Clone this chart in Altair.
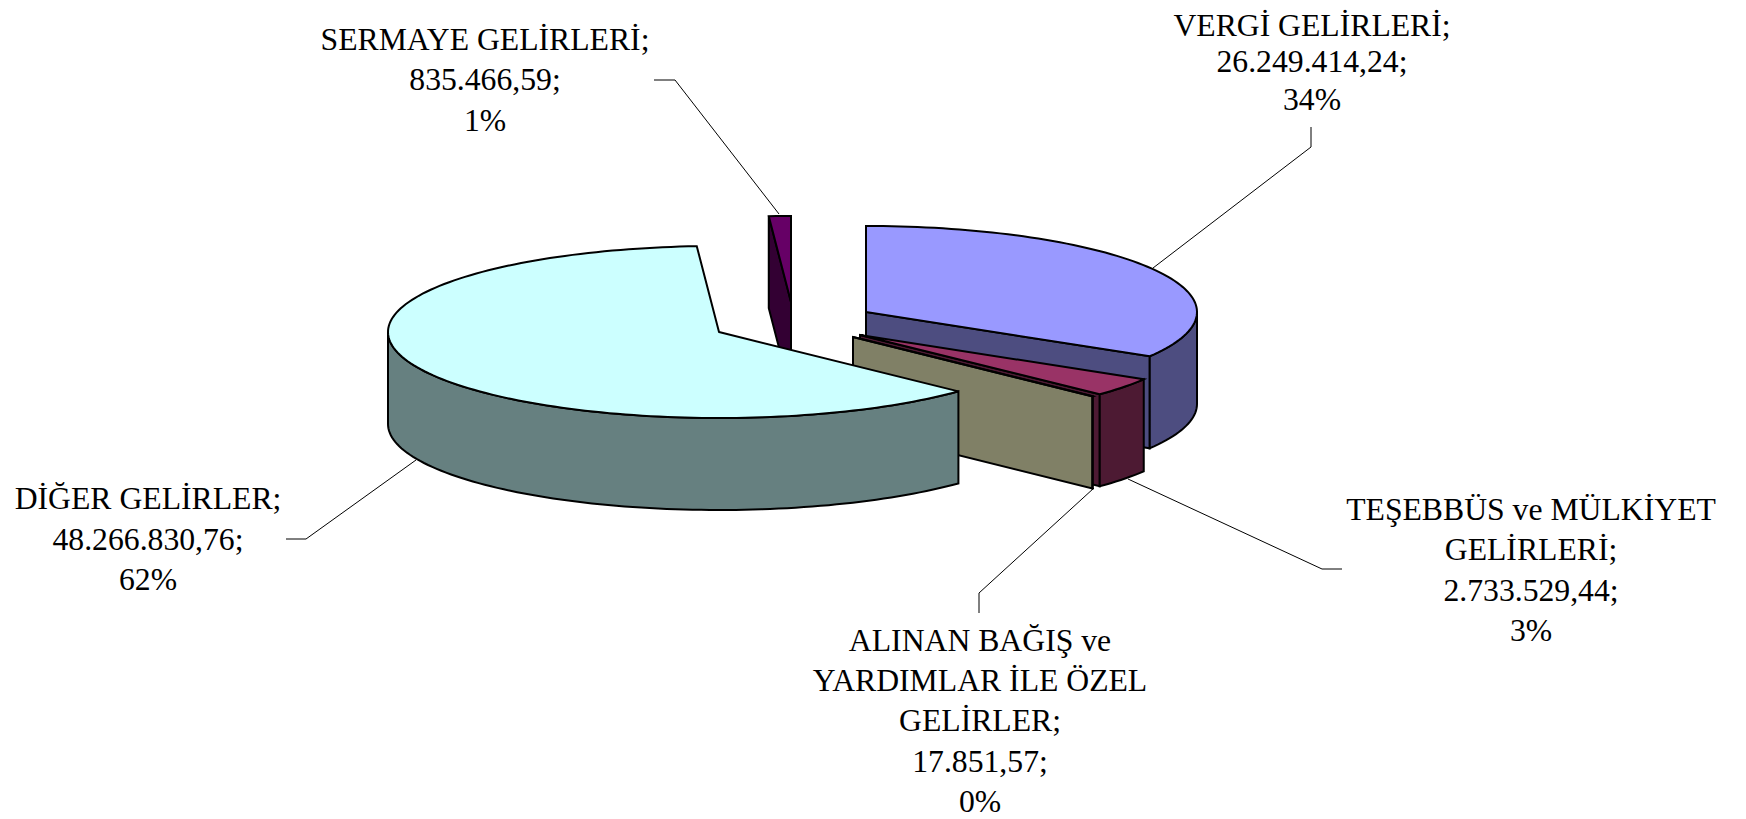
import math
import altair as alt
import pandas as pd

# ---- data ----
categories = ["VERGİ GELİRLERİ", "TEŞEBBÜS ve MÜLKİYET GELİRLERİ",
              "ALINAN BAĞIŞ ve YARDIMLAR İLE ÖZEL GELİRLER",
              "DİĞER GELİRLER", "SERMAYE GELİRLERİ"]
values = [26249414.24, 2733529.44, 17851.57, 48266830.76, 835466.59]
value_labels = ["26.249.414,24;", "2.733.529,44;", "17.851,57;", "48.266.830,76;", "835.466,59;"]
percent_labels = ["34%", "3%", "0%", "62%", "1%"]
name_lines = [["VERGİ GELİRLERİ;"],
              ["TEŞEBBÜS ve MÜLKİYET", "GELİRLERİ;"],
              ["ALINAN BAĞIŞ ve", "YARDIMLAR İLE ÖZEL", "GELİRLER;"],
              ["DİĞER GELİRLER;"],
              ["SERMAYE GELİRLERİ;"]]

# ---- styles and layout ----
top_colors = ["#9999FF", "#993366", "#FFFFCC", "#CCFFFF", "#660066"]
wall_colors = ["#4D4D80", "#4D1A33", "#808066", "#668080", "#330033"]
apex = [(866, 312), (860, 335), (853, 337), (719, 332), (791, 302)]
RX, RY, DEPTH = 331, 86, 92
label_x = [1312, 1531, 980, 148, 485]
label_baselines = [[36, 72, 110], [520, 560, 601, 641], [651, 691, 731, 772, 812],
                   [509, 550, 590], [50, 90, 131]]
leaders = [[(1311, 127), (1311, 147), (1153, 268)],
           [(1342, 569), (1322, 569), (1128, 479)],
           [(979, 613), (979, 593), (1094, 488)],
           [(286, 539), (306, 539), (416, 460)],
           [(654, 80), (675, 80), (779, 214)]]
FONT = "Liberation Serif"
FONT_SIZE = 31.7

W, H = 1730, 811
xs = alt.Scale(domain=[8, 1738], range=[0, W], nice=False, zero=False)
ys = alt.Scale(domain=[819, 8], nice=False, zero=False)


def rim(c, deg):
    r = math.radians(deg)
    return (c[0] + RX * math.sin(r), c[1] - RY * math.cos(r))


def arc(c, a0, a1):
    n = max(2, int(abs(a1 - a0) / 1.5) + 2)
    return [rim(c, a0 + (a1 - a0) * i / (n - 1)) for i in range(n)]


def down(pts):
    return [(x, y + DEPTH) for x, y in pts]


def polygon(pts, fill, stroke="black", width=2):
    closed = list(pts) + [pts[0], pts[1]]
    df = pd.DataFrame({"x": [p[0] for p in closed], "y": [p[1] for p in closed],
                       "i": range(len(closed))})
    return alt.Chart(df).mark_line(fill=fill, stroke=stroke, strokeWidth=width,
                                   strokeJoin="miter", clip=False).encode(
        x=alt.X("x:Q", scale=xs, axis=None),
        y=alt.Y("y:Q", scale=ys, axis=None),
        order="i:Q")


total = sum(values)
angles = [0.0]
for v in values:
    angles.append(angles[-1] + v / total * 360)

layers = []
for pts in leaders:
    df = pd.DataFrame({"x": [p[0] for p in pts], "y": [p[1] for p in pts], "i": range(len(pts))})
    layers.append(alt.Chart(df).mark_line(stroke="black", strokeWidth=1).encode(
        x=alt.X("x:Q", scale=xs, axis=None),
        y=alt.Y("y:Q", scale=ys, axis=None),
        order="i:Q"))

for k in [4, 0, 1, 2, 3]:
    a0, a1 = angles[k], angles[k + 1]
    c = apex[k]
    if 180 < a0 < 360:
        p = [c, rim(c, a0)]
        layers.append(polygon(p + down(p)[::-1], wall_colors[k]))
    if 0 < a1 < 180:
        p = [c, rim(c, a1)]
        layers.append(polygon(p + down(p)[::-1], wall_colors[k]))
    w0, w1 = max(a0, 90), min(a1, 270)
    if w0 < w1:
        p = arc(c, w0, w1)
        layers.append(polygon(p + down(p)[::-1], wall_colors[k]))
    layers.append(polygon([c] + arc(c, a0, a1), top_colors[k]))

rows = []
for k in range(len(values)):
    lines = name_lines[k] + [value_labels[k], percent_labels[k]]
    for t, b in zip(lines, label_baselines[k]):
        rows.append({"x": label_x[k], "y": b, "t": t})
layers.append(alt.Chart(pd.DataFrame(rows)).mark_text(
    font=FONT, fontSize=FONT_SIZE, align="center", baseline="alphabetic", color="black").encode(
    x=alt.X("x:Q", scale=xs, axis=None),
    y=alt.Y("y:Q", scale=ys, axis=None),
    text="t:N"))

chart = alt.layer(*layers).properties(
    width=W, height=H, padding=0, autosize=alt.AutoSizeParams(type="none")
).configure_view(stroke=None)
chart.save("out.html", embed_options={"renderer": "svg", "actions": False})
